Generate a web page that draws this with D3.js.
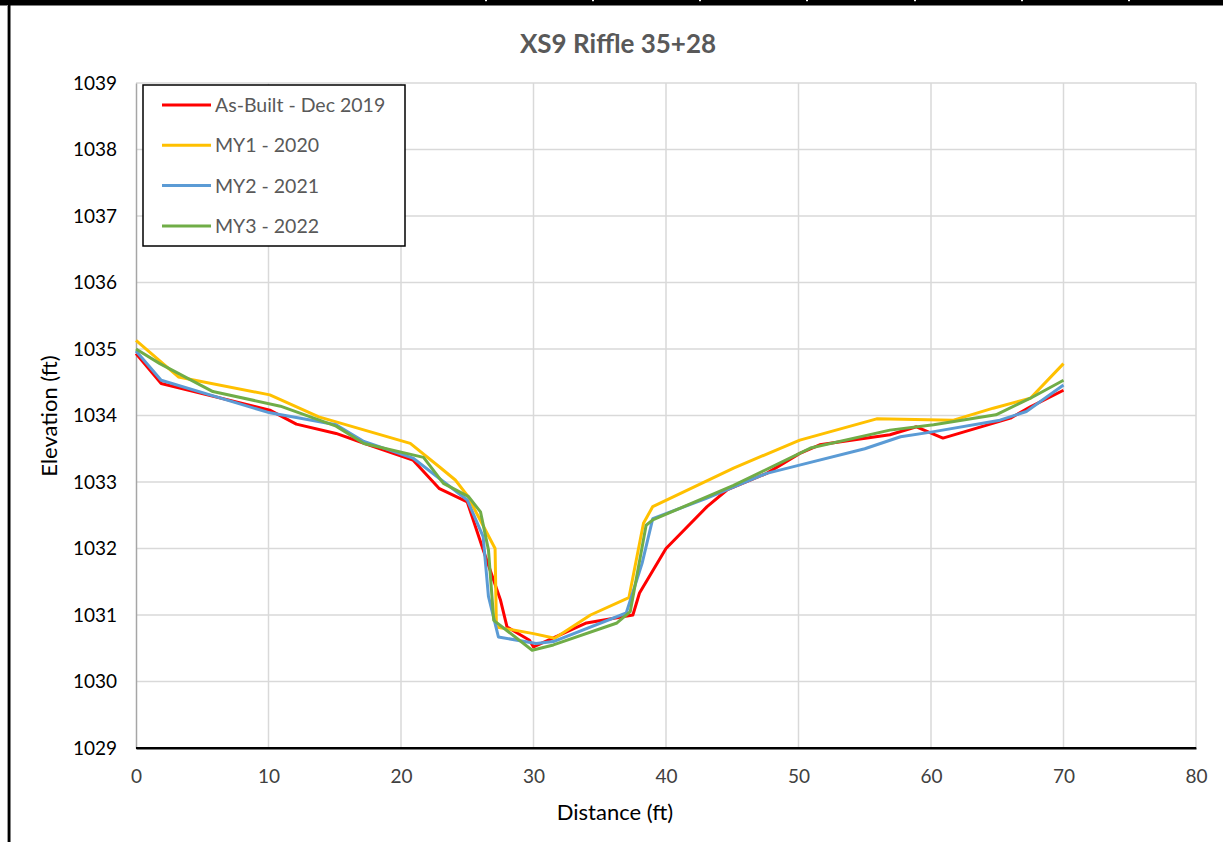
<!DOCTYPE html>
<html>
<head>
<meta charset="utf-8">
<script src="https://cdn.jsdelivr.net/npm/d3@7"></script>
<style>
  html, body { margin: 0; padding: 0; background: #fff; }
  svg { display: block; }
  text { font-family: Lato, "Open Sans", "Liberation Sans", sans-serif; }
</style>
</head>
<body>
<svg id="chart" width="1223" height="842"></svg>
<script>
const title = "XS9 Riffle 35+28";
const xLabel = "Distance (ft)";
const yLabel = "Elevation (ft)";
const xTicks = [0, 10, 20, 30, 40, 50, 60, 70, 80];
const yTicks = [1029, 1030, 1031, 1032, 1033, 1034, 1035, 1036, 1037, 1038, 1039];

const seriesNames = ["As-Built - Dec 2019", "MY1 - 2020", "MY2 - 2021", "MY3 - 2022"];
const seriesColors = ["#FF0000", "#FFC000", "#5B9BD5", "#70AD47"];

const asBuiltX = [0, 1.9, 10.1, 12.1, 15.1, 17.1, 20.9, 22.9, 25.0, 26.2, 27.5, 28.0, 29.7, 30.0, 34.0, 37.5, 38.0, 40.0, 43.1, 44.6, 47.6, 50.1, 51.6, 56.9, 58.9, 60.9, 66.0, 67.5, 70.0];
const asBuiltY = [1034.93, 1034.48, 1034.08, 1033.87, 1033.73, 1033.59, 1033.33, 1032.90, 1032.70, 1031.98, 1031.23, 1030.82, 1030.62, 1030.52, 1030.88, 1031.00, 1031.33, 1032.00, 1032.63, 1032.88, 1033.13, 1033.43, 1033.56, 1033.71, 1033.83, 1033.66, 1033.96, 1034.13, 1034.38];

const my1X = [0, 3.2, 10.1, 13.8, 20.7, 23.0, 24.1, 25.0, 27.1, 27.2, 30.0, 31.6, 34.3, 37.2, 38.3, 39.0, 45.1, 50.1, 55.9, 61.7, 64.7, 67.5, 70.0];
const my1Y = [1035.13, 1034.58, 1034.31, 1033.98, 1033.58, 1033.21, 1033.03, 1032.80, 1032.00, 1030.82, 1030.72, 1030.65, 1031.00, 1031.26, 1032.38, 1032.63, 1033.21, 1033.63, 1033.95, 1033.93, 1034.11, 1034.26, 1034.78];

const my2X = [0, 1.9, 10.1, 12.1, 15.1, 17.2, 20.9, 25.0, 26.2, 26.6, 27.35, 30.2, 31.5, 37.0, 38.2, 39.0, 43.0, 47.6, 50.0, 55.0, 57.7, 60.0, 65.2, 67.2, 70.0];
const my2Y = [1034.97, 1034.53, 1034.04, 1033.97, 1033.86, 1033.61, 1033.36, 1032.73, 1032.18, 1031.28, 1030.67, 1030.57, 1030.60, 1031.03, 1031.78, 1032.45, 1032.75, 1033.13, 1033.25, 1033.50, 1033.68, 1033.75, 1033.93, 1034.06, 1034.46];

const my3X = [0, 1.8, 5.8, 10.9, 15.1, 17.2, 21.7, 23.2, 25.1, 26.0, 26.6, 27.0, 29.9, 31.5, 36.3, 37.3, 38.5, 39.0, 45.1, 50.9, 56.9, 60.2, 64.9, 67.5, 70.0];
const my3Y = [1035.00, 1034.78, 1034.36, 1034.14, 1033.84, 1033.58, 1033.37, 1032.98, 1032.78, 1032.55, 1031.98, 1030.92, 1030.47, 1030.55, 1030.88, 1031.05, 1032.35, 1032.43, 1032.95, 1033.51, 1033.78, 1033.86, 1034.01, 1034.26, 1034.53];

const seriesXs = [asBuiltX, my1X, my2X, my3X];
const seriesYs = [asBuiltY, my1Y, my2Y, my3Y];

const svg = d3.select("#chart");
const W = 1223, H = 842;
const plot = { left: 136, right: 1196, top: 83, bottom: 748 };

svg.append("rect").attr("width", W).attr("height", H).attr("fill", "#fff");

// sheet borders
svg.append("rect").attr("x", 0).attr("y", 0).attr("width", W).attr("height", 5.5).attr("fill", "#000");
[485, 592, 699, 806, 914, 1021, 1128].forEach(x => {
  svg.append("rect").attr("x", x).attr("y", 0).attr("width", 2).attr("height", 1.2).attr("fill", "#fff");
});
svg.append("rect").attr("x", 8).attr("y", 5).attr("width", 2.5).attr("height", H - 5).attr("fill", "#000");
svg.append("rect").attr("x", 7).attr("y", 5).attr("width", 1).attr("height", H - 5).attr("fill", "#999");

const x = d3.scaleLinear().domain([0, 80]).range([plot.left, plot.right]);
const y = d3.scaleLinear().domain([1029, 1039]).range([plot.bottom, plot.top]);

// gridlines
const grid = svg.append("g");
grid.selectAll(".vg").data(xTicks.slice(1)).join("line")
  .attr("x1", d => x(d)).attr("x2", d => x(d))
  .attr("y1", plot.top).attr("y2", plot.bottom)
  .attr("stroke", "#d9d9d9").attr("stroke-width", 1.5);
grid.selectAll(".hg").data(yTicks.slice(1)).join("line")
  .attr("x1", plot.left).attr("x2", plot.right)
  .attr("y1", d => y(d)).attr("y2", d => y(d))
  .attr("stroke", "#d9d9d9").attr("stroke-width", 1.5);

// axes
const xAxis = d3.axisBottom(x).tickValues(xTicks).tickSize(0).tickPadding(22).tickFormat(d3.format("d"));
const gx = svg.append("g").attr("transform", `translate(0,${plot.bottom})`).call(xAxis);
gx.select(".domain").attr("stroke", "#000").attr("stroke-width", 2);
gx.selectAll("text").attr("font-size", 19).attr("fill", "#404040");

const yAxis = d3.axisLeft(y).tickValues(yTicks).tickSize(0).tickPadding(19).tickFormat(d3.format("d"));
const gy = svg.append("g").attr("transform", `translate(${plot.left},0)`).call(yAxis);
gy.select(".domain").attr("stroke", "#a6a6a6").attr("stroke-width", 1.5);
gy.selectAll("text").attr("font-size", 19).attr("fill", "#000");

// redraw bottom axis on top of y domain
svg.append("line").attr("x1", plot.left).attr("x2", plot.right)
  .attr("y1", plot.bottom).attr("y2", plot.bottom).attr("stroke", "#000").attr("stroke-width", 2);

// lines
const line = d3.line().x(d => x(d[0])).y(d => y(d[1]));
const linesG = svg.append("g");
seriesNames.forEach((name, i) => {
  const pts = seriesXs[i].map((v, j) => [v, seriesYs[i][j]]);
  linesG.append("path").datum(pts)
    .attr("d", line)
    .attr("fill", "none")
    .attr("stroke", seriesColors[i])
    .attr("stroke-width", 3)
    .attr("stroke-linejoin", "round");
});

// title
svg.append("text").attr("x", 618).attr("y", 53).attr("text-anchor", "middle")
  .attr("font-size", 26).attr("font-weight", "bold").attr("fill", "#595959").text(title);

// axis labels
svg.append("text").attr("x", 615).attr("y", 820).attr("text-anchor", "middle")
  .attr("font-size", 22).attr("fill", "#000").text(xLabel);
svg.append("text").attr("transform", "translate(57,416) rotate(-90)").attr("text-anchor", "middle")
  .attr("font-size", 22).attr("fill", "#000").text(yLabel);

// legend
const lg = svg.append("g");
lg.append("rect").attr("x", 143).attr("y", 85).attr("width", 262).attr("height", 161)
  .attr("fill", "#fff").attr("stroke", "#000").attr("stroke-width", 1.5);
seriesNames.forEach((name, i) => {
  const cy = 105 + i * 40.3;
  lg.append("line").attr("x1", 162).attr("x2", 211).attr("y1", cy).attr("y2", cy)
    .attr("stroke", seriesColors[i]).attr("stroke-width", 3);
  lg.append("text").attr("x", 215).attr("y", cy + 7).attr("font-size", 19.5).attr("fill", "#595959").text(name);
});
</script>
</body>
</html>
